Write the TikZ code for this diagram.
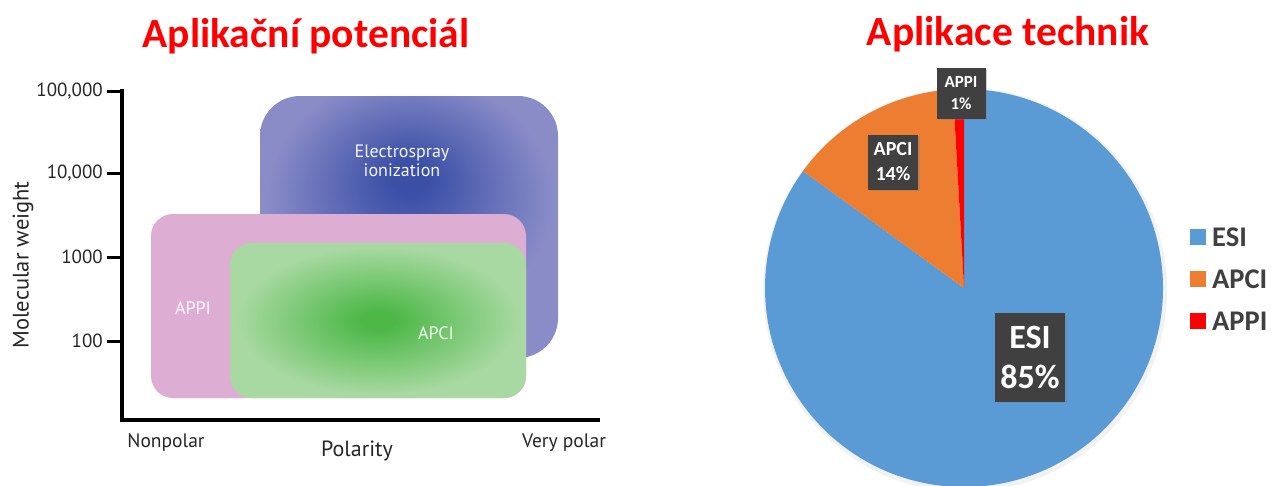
\documentclass[tikz,border=0pt]{standalone}
\usepackage{fontspec}
\setmainfont{Carlito}
\newfontfamily\axisfont{PT Sans}
\usetikzlibrary{shadows}
\definecolor{titlered}{HTML}{FF0000}
\definecolor{esiC}{HTML}{3A4FA6}
\definecolor{esiE}{HTML}{8A8CC8}
\definecolor{apciC}{HTML}{4DB848}
\definecolor{apciE}{HTML}{A9D9A2}
\definecolor{appiE}{HTML}{DEADD4}
\definecolor{pieblue}{HTML}{5B9BD5}
\definecolor{pieorange}{HTML}{ED7D31}
\definecolor{piered}{HTML}{FF0000}
\definecolor{labgray}{HTML}{404040}
\definecolor{legtext}{HTML}{404040}
\pgfdeclareradialshading{esishade}{\pgfpoint{0bp}{10bp}}{color(0bp)=(esiC); color(3bp)=(esiC); color(24bp)=(esiE); color(50bp)=(esiE)}
\pgfdeclareradialshading{apcishade}{\pgfpoint{0bp}{0bp}}{color(0bp)=(apciC); color(3bp)=(apciC); color(24bp)=(apciE); color(50bp)=(apciE)}
\tikzset{
  titletext/.style={font=\fontsize{41.5}{44}\selectfont\bfseries, text=titlered, inner sep=0pt},
  axislabel/.style={font=\axisfont\fontsize{19.5}{22}\selectfont, text=black!85, inner sep=0pt},
  ticklabel/.style={font=\axisfont\fontsize{19}{22}\selectfont, text=black!85, inner sep=0pt, anchor=east},
  regiontext/.style={font=\axisfont\fontsize{18}{22}\selectfont, align=center, inner sep=0pt},
  axisline/.style={line width=3.5pt},
  piebox/.style={fill=labgray, text=white, font=\bfseries, align=center, inner sep=0pt, drop shadow={shadow xshift=1.5pt, shadow yshift=-1.5pt, opacity=0.35}},
  legsq/.style={fill=#1, minimum size=16pt, inner sep=0pt},
  legtxt/.style={font=\fontsize{28.5}{30}\selectfont\bfseries, text=legtext, anchor=west, inner sep=0pt},
}
\begin{document}
\begin{tikzpicture}[x=1pt,y=-1pt]
\useasboundingbox (0,0) rectangle (1271,485);
\fill[white] (0,0) rectangle (1271,485);
\clip (0,0) rectangle (1271,485);

% titles
\node[titletext] (t1) at (306,36) {Aplikační potenciál};
\node[titletext] (t2) at (1008,34) {Aplikace technik};

% regions
\shade[shading=esishade, rounded corners=40pt] (260,96) rectangle (558,358);
\fill[appiE, rounded corners=22pt] (151,214) rectangle (526,398);
\shade[shading=apcishade, rounded corners=22pt] (230,243) rectangle (526,398);
\node[regiontext, text=white!90!esiE] (esi) at (402,161) {Electrospray\\[-3pt]ionization};
\node[regiontext, text=white!92!appiE] (appi) at (193,308) {APPI};
\node[regiontext, text=white!85!apciE] (apci) at (436,333) {APCI};

% axes
\coordinate (o) at (122,420);
\coordinate (ytop) at (122,89);
\coordinate (xend) at (600,420);
\draw[axisline] (ytop) -- (o) -- (xend);
\foreach \yy/\lab/\nm in {91/{100,000}/a, 173/{10,000}/b, 257/1000/c, 341/100/d} {
  \coordinate (tk\nm) at (107,\yy);
  \draw[line width=3pt] (tk\nm) -- (122,\yy);
  \node[ticklabel] (tl\nm) at (103,\yy) {\lab};
}
\node[axislabel, rotate=90, font=\axisfont\fontsize{22.5}{25}\selectfont] (ylab) at (23,265) {Molecular weight};
\node[axislabel] (np) at (166,443) {Nonpolar};
\node[axislabel, font=\axisfont\fontsize{22}{25}\selectfont] (pol) at (357,451) {Polarity};
\node[axislabel] (vp) at (564,443) {Very polar};

% pie
\begin{scope}[shift={(964,288)}, x=1pt, y=1pt]
  \fill[black, opacity=0.05] (1,-2) circle (202);
  \fill[pieblue] (0,0) -- (90:199) arc[start angle=90, end angle=-216, radius=199] -- cycle;
  \fill[pieorange] (0,0) -- (144:199) arc[start angle=144, end angle=93.2, radius=199] -- cycle;
  \fill[piered] (0,0) -- (93.2:199) arc[start angle=93.2, end angle=90, radius=199] -- cycle;
\end{scope}
\node[piebox, minimum width=49pt, minimum height=51pt, font=\fontsize{17}{22}\selectfont\bfseries] (lappi) at (961,93) {APPI\\1\%};
\node[piebox, minimum width=50pt, minimum height=55pt, font=\fontsize{20}{25}\selectfont\bfseries] (lapci) at (893,162) {APCI\\14\%};
\node[piebox, minimum width=70pt, minimum height=89pt, font=\fontsize{34}{40}\selectfont\bfseries] (lesi) at (1030,357) {ESI\\85\%};

% legend
\node[legsq=pieblue] (sq1) at (1198,237) {};
\node[legsq=pieorange] (sq2) at (1198,279) {};
\node[legsq=piered] (sq3) at (1198,321) {};
\node[legtxt] (lg1) at (1212,237) {ESI};
\node[legtxt] (lg2) at (1212,279) {APCI};
\node[legtxt] (lg3) at (1212,321) {APPI};
\end{tikzpicture}
\end{document}
